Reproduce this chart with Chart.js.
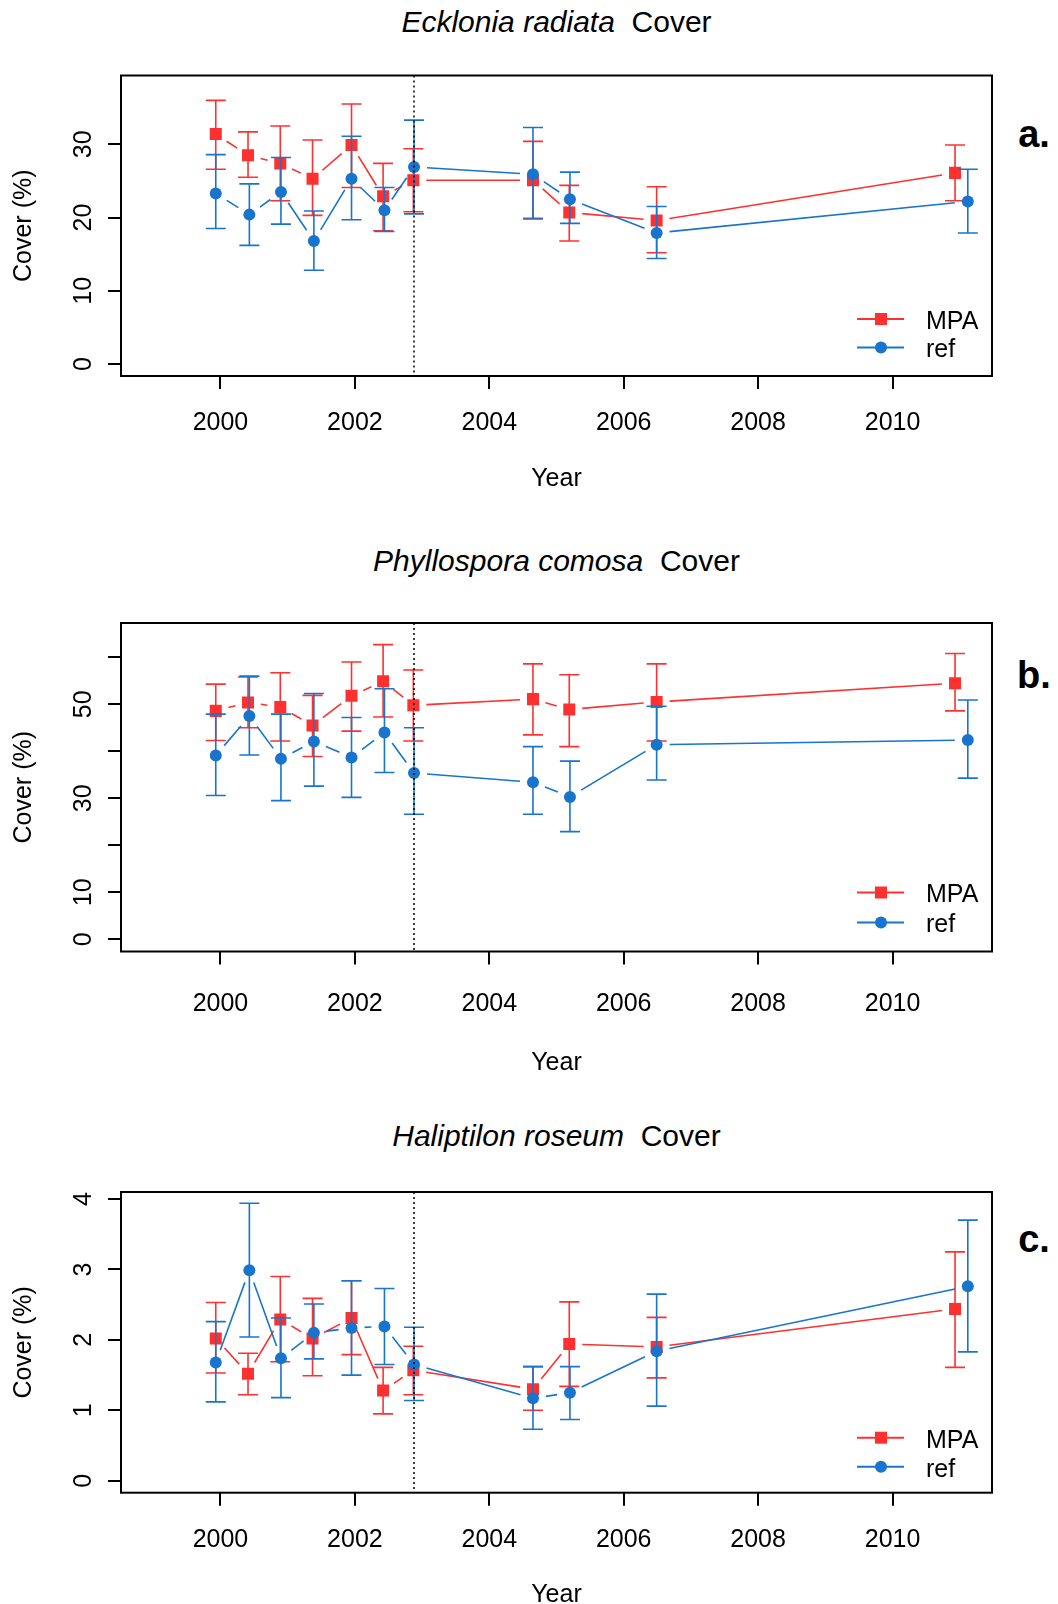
<!DOCTYPE html>
<html lang="en">
<head>
  <meta charset="UTF-8" />
  <title>Algal cover: MPA vs reference sites</title>
  <script src="https://cdn.jsdelivr.net/npm/chart.js"></script>
  <style>
    html, body {
      margin: 0;
      padding: 0;
      background: #fff;
      overflow: hidden;
    }
    body {
      width: 1058px;
      height: 1604px;
      position: relative;
      font-family: "Liberation Sans", Arial, sans-serif;
      color: #000;
    }
    canvas {
      position: absolute;
      left: 0;
    }
    .title {
      position: absolute;
      left: 121px;
      width: 871px;
      text-align: center;
      font-size: 30px;
      line-height: 30px;
      white-space: pre;
    }
    .tag {
      position: absolute;
      left: 999px;
      width: 70px;
      text-align: center;
      font-size: 38px;
      line-height: 38px;
      font-weight: bold;
    }
  </style>
</head>
<body>
  <div class="title" style="top:7px"><i>Ecklonia radiata</i>  Cover</div>
  <div class="tag" style="top:115px">a.</div>
  <canvas id="chartA" width="1058" height="520" style="top:0px"></canvas>

  <div class="title" style="top:546px"><i>Phyllospora comosa</i>  Cover</div>
  <div class="tag" style="top:656px">b.</div>
  <canvas id="chartB" width="1058" height="560" style="top:530px"></canvas>

  <div class="title" style="top:1121px"><i>Haliptilon roseum</i>  Cover</div>
  <div class="tag" style="top:1220px">c.</div>
  <canvas id="chartC" width="1058" height="530" style="top:1090px"></canvas>

  <script>
    // sampling dates (decimal years)
    const mpaYears = [1999.93, 2000.41, 2000.89, 2001.37, 2001.95, 2002.42, 2002.87, 2004.65, 2005.19, 2006.49, 2010.93];
    const refYears = [1999.93, 2000.43, 2000.90, 2001.39, 2001.95, 2002.44, 2002.88, 2004.65, 2005.20, 2006.49, 2011.12];
    const yearTicks = [2000, 2002, 2004, 2006, 2008, 2010];
    const interventionYear = 2002.88;

    // a. Ecklonia radiata
    const eckMpa   = [31.4, 28.5, 27.4, 25.3, 29.9, 22.9, 25.1, 25.1, 20.7, 19.6, 26.1];
    const eckMpaLo = [26.6, 25.5, 22.3, 20.3, 24.1, 18.2, 20.8, 19.9, 16.8, 15.2, 22.3];
    const eckMpaHi = [36.0, 31.7, 32.5, 30.6, 35.5, 27.4, 29.4, 30.4, 24.4, 24.2, 29.9];
    const eckRef   = [23.3, 20.4, 23.5, 16.8, 25.3, 21.0, 26.9, 25.9, 22.5, 17.9, 22.2];
    const eckRefLo = [18.5, 16.2, 19.1, 12.8, 19.7, 18.1, 20.5, 19.8, 19.2, 14.4, 17.9];
    const eckRefHi = [28.6, 24.6, 28.2, 20.9, 31.1, 24.1, 33.3, 32.3, 26.2, 21.5, 26.6];
    const eckTicks = [0, 10, 20, 30];
    const eckTickLabels = ['0', '10', '20', '30'];

    // b. Phyllospora comosa
    const phyMpa   = [48.6, 50.4, 49.4, 45.5, 51.8, 54.9, 49.8, 51.1, 48.9, 50.5, 54.5];
    const phyMpaLo = [42.3, 45.0, 42.2, 38.9, 44.3, 47.3, 42.2, 43.5, 41.0, 42.2, 48.6];
    const phyMpaHi = [54.3, 55.8, 56.7, 51.9, 59.0, 62.7, 57.3, 58.6, 56.3, 58.6, 60.8];
    const phyRef   = [39.1, 47.5, 38.4, 42.1, 38.7, 44.0, 35.4, 33.4, 30.3, 41.4, 42.4];
    const phyRefLo = [30.6, 39.2, 29.5, 32.6, 30.2, 35.5, 26.6, 26.6, 22.9, 33.9, 34.3];
    const phyRefHi = [47.9, 56.0, 47.9, 52.3, 47.2, 53.3, 45.0, 41.0, 37.9, 49.6, 50.9];
    const phyTicks = [0, 10, 20, 30, 40, 50, 60];
    const phyTickLabels = ['0', '10', '', '30', '', '50', ''];

    // c. Haliptilon roseum
    const halMpa   = [2.02, 1.52, 2.29, 2.02, 2.31, 1.28, 1.57, 1.30, 1.94, 1.90, 2.44];
    const halMpaLo = [1.53, 1.22, 1.69, 1.49, 1.79, 0.95, 1.22, 1.00, 1.34, 1.46, 1.61];
    const halMpaHi = [2.53, 1.81, 2.90, 2.59, 2.84, 1.61, 1.91, 1.62, 2.54, 2.32, 3.25];
    const halRef   = [1.68, 2.99, 1.74, 2.10, 2.17, 2.19, 1.65, 1.17, 1.25, 1.84, 2.76];
    const halRefLo = [1.12, 2.04, 1.18, 1.73, 1.50, 1.65, 1.14, 0.73, 0.87, 1.06, 1.83];
    const halRefHi = [2.26, 3.94, 2.31, 2.51, 2.84, 2.73, 2.18, 1.62, 1.62, 2.65, 3.70];
    const halTicks = [0, 1, 2, 3, 4];
    const halTickLabels = ['0', '1', '2', '3', '4'];

    const RED = '#ff3030';
    const BLUE = '#1874cd';
    const FONT = '"Liberation Sans", Arial, sans-serif';
    const GAP = 13; // R type="b" leaves a gap round each point

    Chart.defaults.font.family = FONT;
    Chart.defaults.color = '#000';

    function drawMarker(ctx, style, x, y, color) {
      ctx.fillStyle = color;
      if (style === 'rect') {
        ctx.fillRect(x - 6, y - 6, 12, 12);
      } else {
        ctx.beginPath();
        ctx.arc(x, y, 6, 0, Math.PI * 2);
        ctx.fill();
      }
    }

    const rPlot = {
      id: 'rplot',
      beforeDatasetDraw(chart, args) {
        const ds = chart.data.datasets[args.index];
        const pts = args.meta.data;
        const ctx = chart.ctx;
        ctx.save();
        ctx.strokeStyle = ds.borderColor;
        ctx.lineWidth = 1.6;
        ctx.beginPath();
        for (let i = 1; i < pts.length; i++) {
          const a = pts[i - 1], b = pts[i];
          const dx = b.x - a.x, dy = b.y - a.y;
          const len = Math.hypot(dx, dy);
          if (len <= 2 * GAP) continue;
          const ux = dx / len, uy = dy / len;
          ctx.moveTo(a.x + ux * GAP, a.y + uy * GAP);
          ctx.lineTo(b.x - ux * GAP, b.y - uy * GAP);
        }
        ctx.stroke();
        ctx.restore();
      },
      afterDatasetDraw(chart, args) {
        const ds = chart.data.datasets[args.index];
        const yScale = chart.scales.y;
        const ctx = chart.ctx;
        ctx.save();
        ctx.strokeStyle = ds.borderColor;
        ctx.lineWidth = 1.6;
        ctx.beginPath();
        args.meta.data.forEach((p, i) => {
          const top = yScale.getPixelForValue(ds.hi[i]);
          const bot = yScale.getPixelForValue(ds.lo[i]);
          ctx.moveTo(p.x, top);
          ctx.lineTo(p.x, bot);
          ctx.moveTo(p.x - 10, top);
          ctx.lineTo(p.x + 10, top);
          ctx.moveTo(p.x - 10, bot);
          ctx.lineTo(p.x + 10, bot);
        });
        ctx.stroke();
        ctx.restore();
      },
      afterDatasetsDraw(chart, args, opts) {
        const ctx = chart.ctx;
        const area = chart.chartArea;
        const xScale = chart.scales.x;
        const yScale = chart.scales.y;
        ctx.save();

        // dotted line at the time of protection
        const vx = xScale.getPixelForValue(interventionYear);
        ctx.strokeStyle = '#000';
        ctx.lineWidth = 1.5;
        ctx.setLineDash([2, 3]);
        ctx.beginPath();
        ctx.moveTo(vx, area.top);
        ctx.lineTo(vx, area.bottom);
        ctx.stroke();
        ctx.setLineDash([]);

        // box
        ctx.lineWidth = 2;
        ctx.strokeRect(area.left, area.top, area.right - area.left, area.bottom - area.top);

        // rotated y tick labels, as in base R
        ctx.fillStyle = '#000';
        ctx.font = '25px ' + FONT;
        ctx.textAlign = 'center';
        ctx.textBaseline = 'middle';
        opts.yTicks.forEach((v, i) => {
          const lab = opts.yLabels[i];
          if (!lab) return;
          ctx.save();
          ctx.translate(84, yScale.getPixelForValue(v));
          ctx.rotate(-Math.PI / 2);
          ctx.fillText(lab, 0, 0);
          ctx.restore();
        });

        // legend, bottom right
        const rows = [
          { text: 'MPA', color: RED, style: 'rect', dy: opts.legendRows[0] },
          { text: 'ref', color: BLUE, style: 'circle', dy: opts.legendRows[1] }
        ];
        ctx.textAlign = 'left';
        rows.forEach(r => {
          const ly = area.bottom - r.dy;
          ctx.strokeStyle = r.color;
          ctx.lineWidth = 2;
          ctx.beginPath();
          ctx.moveTo(area.right - 135, ly);
          ctx.lineTo(area.right - 88, ly);
          ctx.stroke();
          drawMarker(ctx, r.style, area.right - 111, ly, r.color);
          ctx.fillStyle = '#000';
          ctx.fillText(r.text, area.right - 66, ly + 3);
        });
        ctx.restore();
      }
    };

    function makePanel(id, cfg) {
      new Chart(document.getElementById(id), {
        type: 'scatter',
        data: {
          datasets: [
            {
              label: 'MPA',
              data: mpaYears.map((x, i) => ({ x, y: cfg.mpa[i] })),
              lo: cfg.mpaLo,
              hi: cfg.mpaHi,
              borderColor: RED,
              backgroundColor: RED,
              pointStyle: 'rect',
              pointRadius: 8.5,
              pointBorderWidth: 0,
              order: 2
            },
            {
              label: 'ref',
              data: refYears.map((x, i) => ({ x, y: cfg.ref[i] })),
              lo: cfg.refLo,
              hi: cfg.refHi,
              borderColor: BLUE,
              backgroundColor: BLUE,
              pointStyle: 'circle',
              pointRadius: 6,
              pointBorderWidth: 0,
              order: 1
            }
          ]
        },
        options: {
          responsive: false,
          animation: false,
          events: [],
          layout: { padding: { top: cfg.padTop, right: 66, bottom: 0, left: 0 } },
          scales: {
            x: {
              type: 'linear',
              min: 1998.52,
              max: 2011.48,
              afterBuildTicks: s => { s.ticks = yearTicks.map(v => ({ value: v })); },
              afterFit: s => { s.height = cfg.xHeight; },
              ticks: {
                font: { size: 25 },
                padding: cfg.tickPad,
                maxRotation: 0,
                autoSkip: false,
                callback: v => String(v)
              },
              grid: { drawOnChartArea: false, drawTicks: true, tickLength: 13, color: '#000', lineWidth: 2 },
              border: { display: false },
              title: { display: true, text: 'Year', font: { size: 25 }, padding: { top: 0, bottom: cfg.titlePad } }
            },
            y: {
              min: cfg.yMin,
              max: cfg.yMax,
              afterBuildTicks: s => { s.ticks = cfg.yTicks.map(v => ({ value: v })); },
              afterFit: s => { s.width = 121; },
              ticks: { display: false },
              grid: { drawOnChartArea: false, drawTicks: true, tickLength: 13, color: '#000', lineWidth: 2 },
              border: { display: false },
              title: { display: true, text: 'Cover (%)', font: { size: 25 }, padding: { top: 9.5, bottom: 0 } }
            }
          },
          plugins: {
            legend: { display: false },
            tooltip: { enabled: false },
            rplot: { yTicks: cfg.yTicks, yLabels: cfg.yLabels, legendRows: cfg.legendRows }
          }
        },
        plugins: [rPlot]
      });
    }

    makePanel('chartA', {
      mpa: eckMpa, mpaLo: eckMpaLo, mpaHi: eckMpaHi,
      ref: eckRef, refLo: eckRefLo, refHi: eckRefHi,
      yTicks: eckTicks, yLabels: eckTickLabels,
      yMin: -1.64, yMax: 39.4,
      padTop: 75.5, xHeight: 144, tickPad: 19.6, titlePad: 25.7,
      legendRows: [57, 28.5]
    });

    makePanel('chartB', {
      mpa: phyMpa, mpaLo: phyMpaLo, mpaHi: phyMpaHi,
      ref: phyRef, refLo: phyRefLo, refHi: phyRefHi,
      yTicks: phyTicks, yLabels: phyTickLabels,
      yMin: -2.6, yMax: 67.3,
      padTop: 93, xHeight: 138.5, tickPad: 24.2, titlePad: 11.5,
      legendRows: [59, 29]
    });

    makePanel('chartC', {
      mpa: halMpa, mpaLo: halMpaLo, mpaHi: halMpaHi,
      ref: halRef, refLo: halRefLo, refHi: halRefHi,
      yTicks: halTicks, yLabels: halTickLabels,
      yMin: -0.17, yMax: 4.10,
      padTop: 102, xHeight: 127.3, tickPad: 19.3, titlePad: 10,
      legendRows: [55, 26]
    });
  </script>
</body>
</html>
